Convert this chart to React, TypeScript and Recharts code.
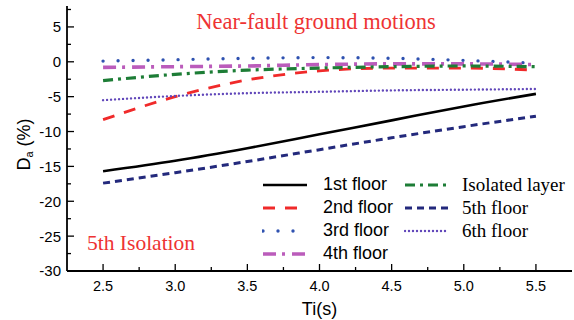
import {Line, LineChart, XAxis, YAxis} from "recharts";

// Ti (s) sample points and D_a (%) per floor
const tiValues = [2.5, 3.0, 3.5, 4.0, 4.5, 5.0, 5.5];
const floor1 = [-15.7, -14.2, -12.4, -10.4, -8.4, -6.4, -4.6];
const floor2 = [-8.3, -5.0, -2.6, -1.3, -0.9, -0.9, -1.2];
const floor3 = [0.1, 0.3, 0.5, 0.6, 0.5, 0.2, -0.2];
const floor4 = [-0.8, -0.7, -0.6, -0.4, -0.3, -0.3, -0.4];
const isolatedLayer = [-2.7, -1.8, -1.2, -0.9, -0.7, -0.6, -0.7];
const floor5 = [-17.4, -15.9, -14.3, -12.6, -10.9, -9.3, -7.8];
const floor6 = [-5.5, -4.9, -4.5, -4.3, -4.1, -4.0, -3.9];

const xTicks = [2.5, 2.75, 3.0, 3.25, 3.5, 3.75, 4.0, 4.25, 4.5, 4.75, 5.0, 5.25, 5.5];
const yTicks = [-30, -27.5, -25, -22.5, -20, -17.5, -15, -12.5, -10, -7.5, -5, -2.5, 0, 2.5, 5, 7.5];

const SANS = "'Liberation Sans', Arial, sans-serif";
const SERIF = "'Liberation Serif', 'Times New Roman', serif";

type SeriesDef = {
  key: string;
  name: string;
  color: string;
  width: number;
  dash?: string;
  cap?: "round" | "butt";
  serif?: boolean;
};

const series: SeriesDef[] = [
  {key: "f1", name: "1st floor", color: "#000000", width: 2.6},
  {key: "f2", name: "2nd floor", color: "#f02a2a", width: 2.8, dash: "12 10"},
  {key: "f3", name: "3rd floor", color: "#2f52b0", width: 3.4, dash: "0 15", cap: "round"},
  {key: "f4", name: "4th floor", color: "#bb5cbb", width: 3.6, dash: "13 6 3 7"},
  {key: "iso", name: "Isolated layer", color: "#1d7d36", width: 3.2, dash: "10 5 3 5", serif: true},
  {key: "f5", name: "5th floor", color: "#23297c", width: 3, dash: "7 5", serif: true},
  {key: "f6", name: "6th floor", color: "#6248ba", width: 2.4, dash: "0 4", cap: "round", serif: true},
];

const seriesValues: Record<string, number[]> = {
  f1: floor1, f2: floor2, f3: floor3, f4: floor4, iso: isolatedLayer, f5: floor5, f6: floor6,
};

const data = tiValues.map((ti, i) => {
  const row: Record<string, number> = {ti};
  series.forEach(s => {
    row[s.key] = seriesValues[s.key][i];
  });
  return row;
});

const isMajor = (v: number, step: number) => Math.abs(v / step - Math.round(v / step)) < 1e-6;

function BottomTick({x, y, payload}: any) {
  const major = isMajor(payload.value, 0.5);
  return (
    <g>
      <line x1={x} y1={y} x2={x} y2={y - (major ? 7 : 4)} stroke="#000" strokeWidth={1.3}/>
      {major && (
        <text x={x} y={y + 20} textAnchor="middle" fontFamily={SANS} fontSize={14.5} fill="#000">
          {payload.value.toFixed(1)}
        </text>
      )}
    </g>
  );
}

function TopTick({x, y, payload}: any) {
  const major = isMajor(payload.value, 0.5);
  return <line x1={x} y1={y} x2={x} y2={y + (major ? 4 : 2)} stroke="#666" strokeWidth={1}/>;
}

function LeftTick({x, y, payload}: any) {
  const major = isMajor(payload.value, 5);
  return (
    <g>
      <line x1={x} y1={y} x2={x + (major ? 7 : 4)} y2={y} stroke="#000" strokeWidth={1.3}/>
      {major && (
        <text x={x - 6} y={y} dy="0.36em" textAnchor="end" fontFamily={SANS} fontSize={15} fill="#000">
          {payload.value}
        </text>
      )}
    </g>
  );
}

function RightTick({x, y, payload}: any) {
  const major = isMajor(payload.value, 5);
  return <line x1={x} y1={y} x2={x - (major ? 4 : 2)} y2={y} stroke="#888" strokeWidth={1}/>;
}

function YTitle({viewBox}: any) {
  const cx = 24;
  const cy = viewBox.y + viewBox.height / 2 + 6;
  return (
    <text
      x={cx}
      y={cy}
      transform={`rotate(-90 ${cx} ${cy})`}
      textAnchor="middle"
      dominantBaseline="central"
      fontFamily={SANS}
      fontSize={18}
      fill="#000"
    >
      D<tspan fontSize={11} dy={5}>a</tspan><tspan dy={-5}> (%)</tspan>
    </text>
  );
}

function LegendBox() {
  const col1 = series.slice(0, 4);
  const col2 = series.slice(4);
  const renderCol = (items: SeriesDef[], left: number) =>
    items.map((s, i) => (
      <div key={s.key} style={{position: "absolute", left, top: i * 23, height: 23, display: "flex", alignItems: "center", whiteSpace: "nowrap"}}>
        <svg width={46} height={10} style={{marginRight: s.serif ? 12 : 15}}>
          <line
            x1={1}
            y1={5}
            x2={45}
            y2={5}
            stroke={s.color}
            strokeWidth={s.width}
            strokeDasharray={s.dash}
            strokeLinecap={s.cap ?? "butt"}
          />
        </svg>
        <span style={{fontFamily: s.serif ? SERIF : SANS, fontSize: s.serif ? 19 : 18, color: "#000"}}>{s.name}</span>
      </div>
    ));
  return (
    <div style={{position: "absolute", left: 262, top: 173, width: 310, height: 92}}>
      {renderCol(col1, 0)}
      {renderCol(col2, 142)}
    </div>
  );
}

const frameDark = {stroke: "#000", strokeWidth: 1.8};
const frameLight = {stroke: "#999", strokeWidth: 1};

export default function App() {
  return (
    <div style={{position: "absolute", left: 0, top: 0, width: 574, height: 320, background: "#fff"}}>
      <LineChart width={574} height={320} data={data} margin={{top: 6, right: 2, bottom: 19, left: 7}}>
        <XAxis
          dataKey="ti"
          type="number"
          domain={[2.25, 5.75]}
          ticks={xTicks}
          interval={0}
          tickSize={0}
          tickMargin={0}
          tickLine={false}
          tick={<BottomTick/>}
          height={30}
          axisLine={frameDark}
          label={{value: "Ti(s)", position: "insideBottom", offset: -14, fontFamily: SANS, fontSize: 18, fill: "#000"}}
        />
        <XAxis
          xAxisId="top"
          orientation="top"
          dataKey="ti"
          type="number"
          domain={[2.25, 5.75]}
          ticks={xTicks}
          interval={0}
          tickSize={0}
          tickMargin={0}
          tickLine={false}
          tick={<TopTick/>}
          height={0}
          axisLine={frameDark}
        />
        <YAxis
          type="number"
          domain={[-30, 8]}
          ticks={yTicks}
          interval={0}
          tickSize={0}
          tickMargin={0}
          tickLine={false}
          tick={<LeftTick/>}
          width={60}
          axisLine={frameDark}
          label={<YTitle/>}
        />
        <YAxis
          yAxisId="right"
          orientation="right"
          type="number"
          domain={[-30, 8]}
          ticks={yTicks}
          interval={0}
          tickSize={0}
          tickMargin={0}
          tickLine={false}
          tick={<RightTick/>}
          width={0}
          axisLine={frameLight}
        />
        {series.map(s => (
          <Line
            key={s.key}
            dataKey={s.key}
            name={s.name}
            type="monotone"
            stroke={s.color}
            strokeWidth={s.width}
            strokeDasharray={s.dash}
            strokeLinecap={s.cap ?? "butt"}
            dot={false}
            activeDot={false}
            isAnimationActive={false}
          />
        ))}
        <text x={316} y={29} textAnchor="middle" fontFamily={SERIF} fontSize={22.5} fill="#ee3333">
          Near-fault ground motions
        </text>
        <text x={87} y={250} fontFamily={SERIF} fontSize={21.5} fill="#ee3333">
          5th Isolation
        </text>
      </LineChart>
      <LegendBox/>
    </div>
  );
}
